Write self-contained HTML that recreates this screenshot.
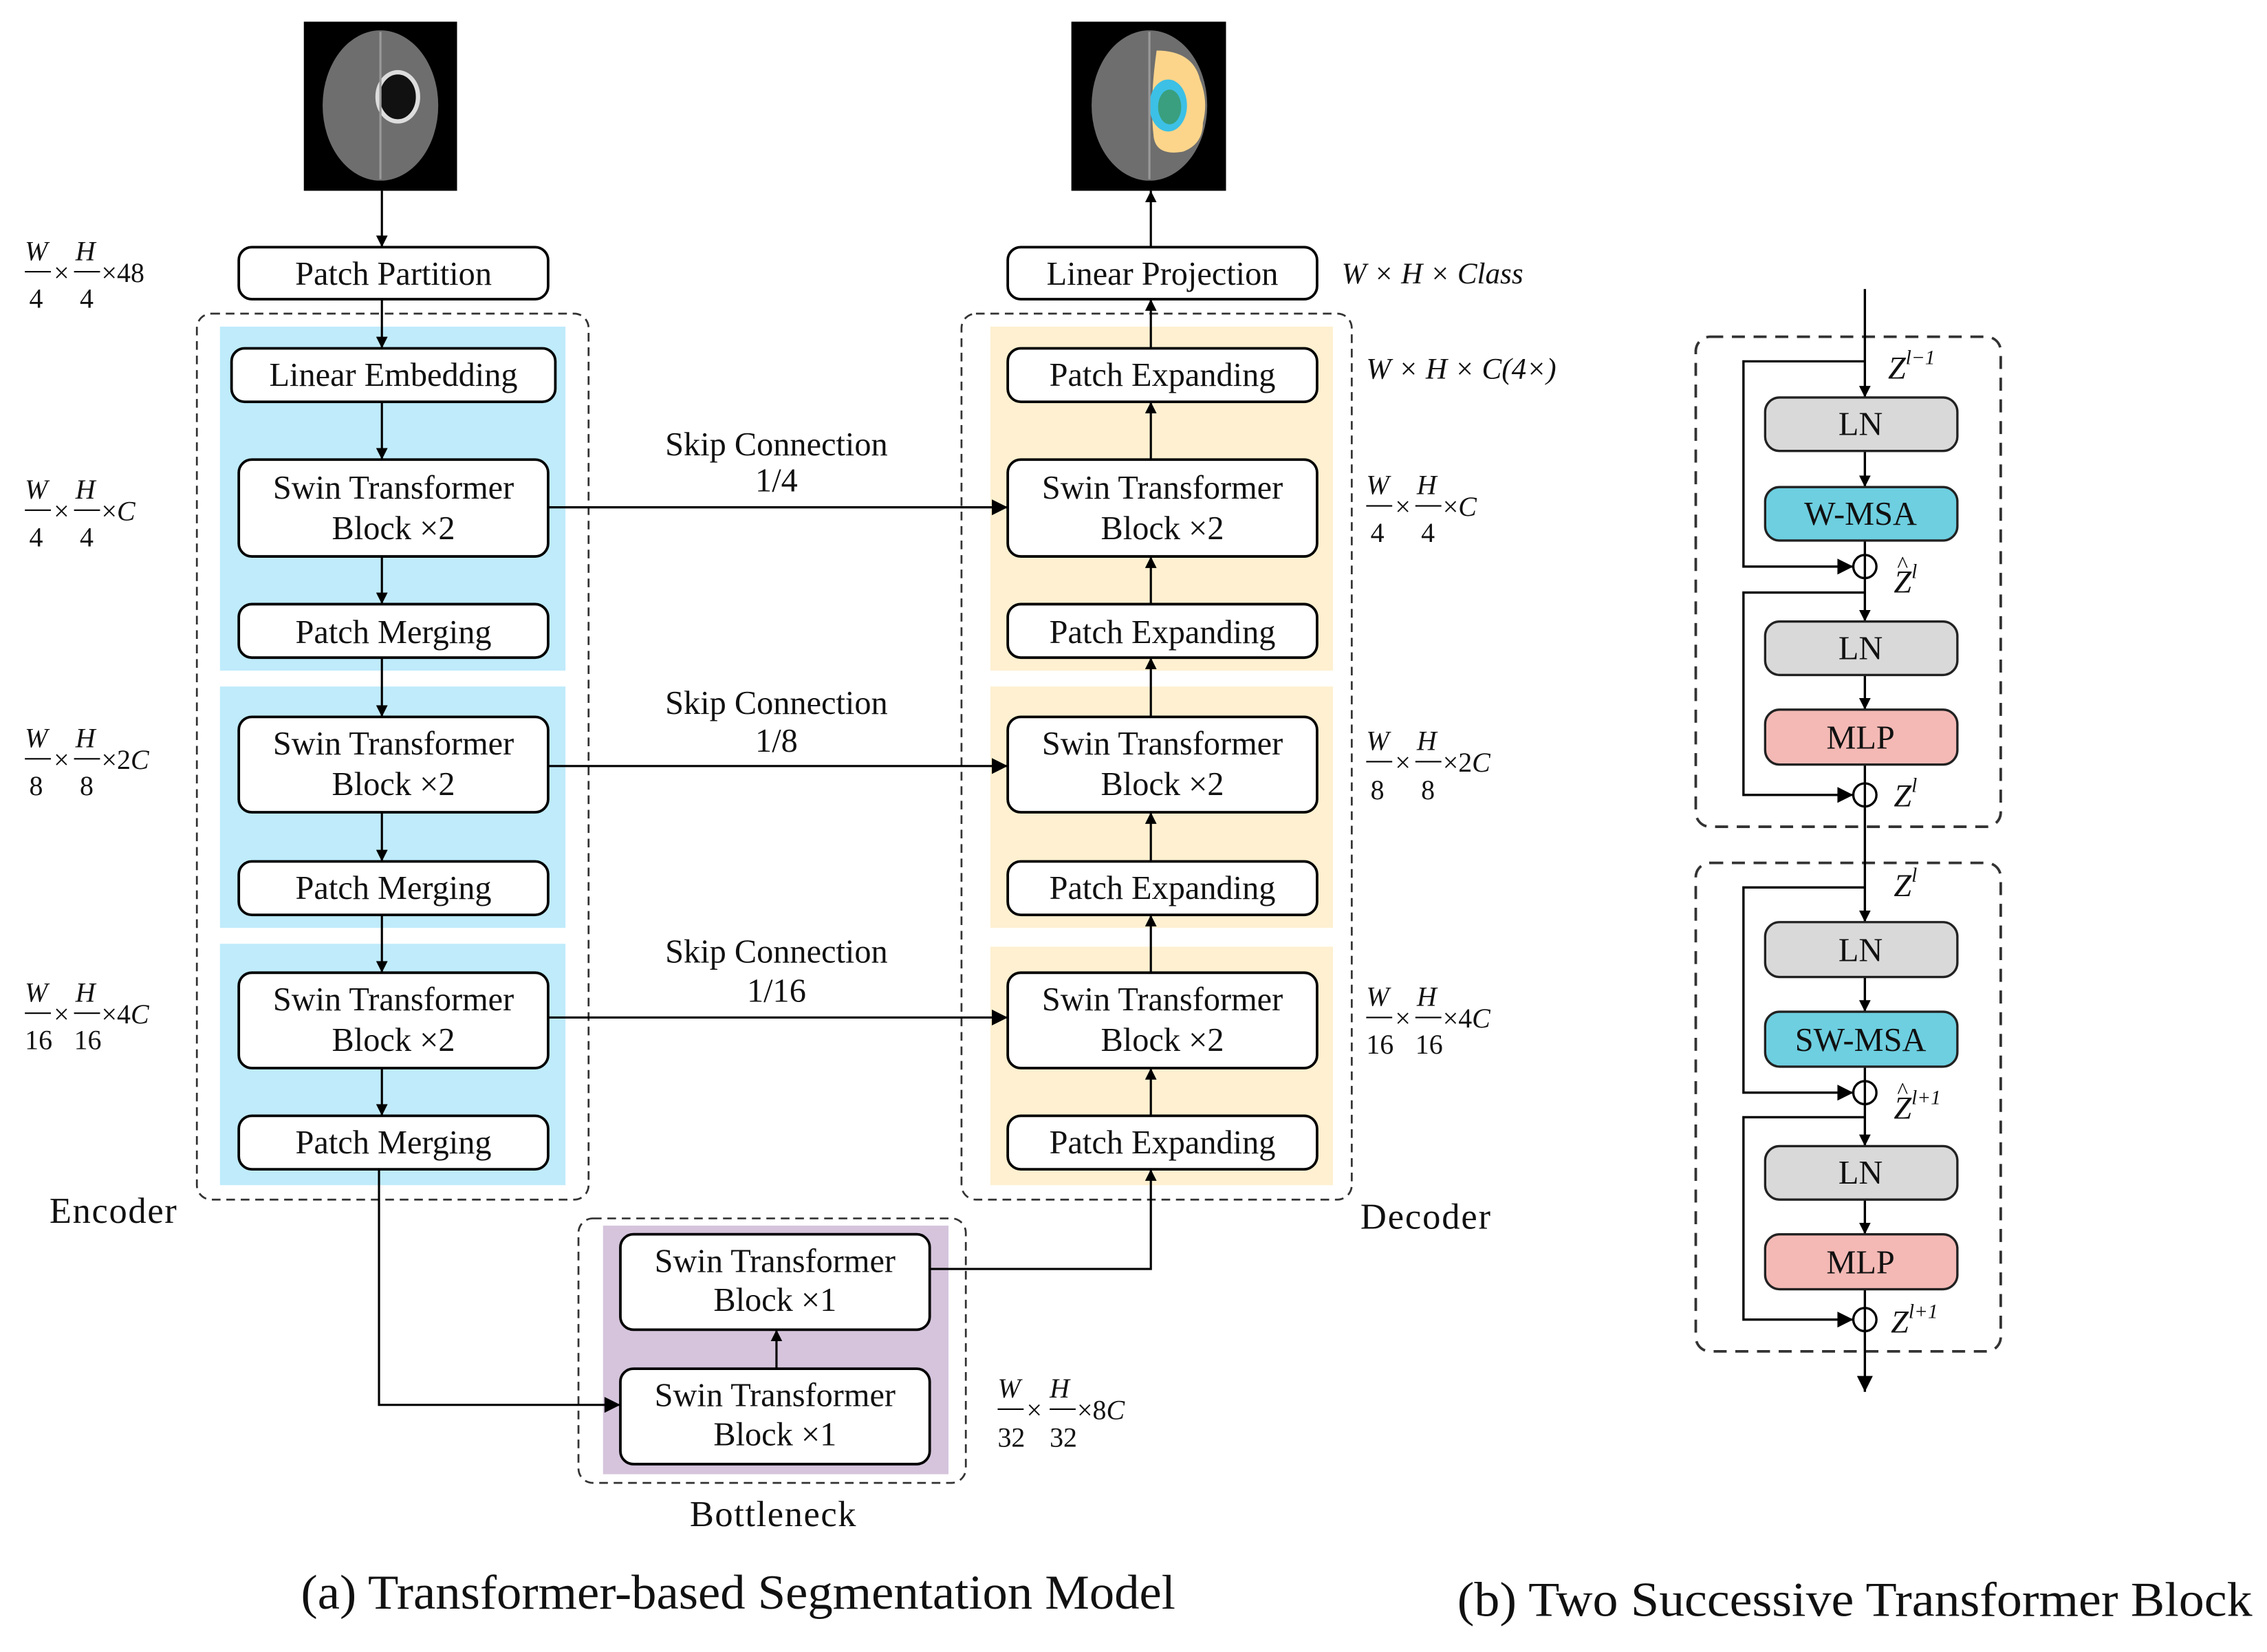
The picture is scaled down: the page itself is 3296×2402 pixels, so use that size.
<!DOCTYPE html>
<html><head><meta charset="utf-8"><style>
html,body{margin:0;padding:0;background:#fff;}
svg{display:block;}
text{font-family:"Liberation Serif",serif;fill:#111;}
.b{font-size:23px;text-anchor:middle;}
.i{font-style:italic;font-size:19px;}
.f{font-size:19px;}
</style></head><body>
<svg width="3296" height="2402" viewBox="0 0 1568 1143" xmlns="http://www.w3.org/2000/svg">
<defs>
<marker id="a" viewBox="0 0 10 10" refX="10" refY="5" markerWidth="8" markerHeight="8" markerUnits="userSpaceOnUse" orient="auto"><path d="M0,0L10,5L0,10z" fill="#000"/></marker>
<marker id="A" viewBox="0 0 10 10" refX="10" refY="5" markerWidth="14" markerHeight="11" markerUnits="userSpaceOnUse" orient="auto"><path d="M0,0L10,5L0,10z" fill="#000"/></marker>
</defs>
<rect x="210" y="15" width="106" height="117" fill="#000"/>
<ellipse cx="263" cy="73" rx="40" ry="52" fill="#6e6e6e"/>
<ellipse cx="275" cy="67" rx="14" ry="17" fill="#111" stroke="#ddd" stroke-width="3"/>
<line x1="263" y1="22" x2="263" y2="124" stroke="#999" stroke-width="1.5"/>
<rect x="741" y="15" width="107" height="117" fill="#000"/>
<ellipse cx="795" cy="73" rx="40" ry="52" fill="#6e6e6e"/>
<path d="M800,35 Q825,35 830,55 Q836,70 832,85 Q832,100 818,105 Q800,108 798,95 Q795,70 800,35z" fill="#fcd58a"/>
<ellipse cx="808" cy="73" rx="13" ry="18" fill="#3cc0e6"/>
<ellipse cx="809" cy="74" rx="8" ry="12" fill="#3a9f7e"/>
<line x1="795" y1="22" x2="795" y2="124" stroke="#999" stroke-width="1.5"/>

<g fill="#bfebfb"><rect x="152" y="226" width="239" height="238"/><rect x="152" y="475" width="239" height="167"/><rect x="152" y="653" width="239" height="167"/></g>
<g fill="#fef0d0"><rect x="685" y="226" width="237" height="238"/><rect x="685" y="475" width="237" height="167"/><rect x="685" y="655" width="237" height="165"/></g>
<rect x="417" y="848" width="239" height="172" fill="#d5c4dc"/>
<g fill="none" stroke="#333" stroke-width="1.3" stroke-dasharray="6,4">
<rect x="136" y="217" width="271" height="613" rx="10"/>
<rect x="665" y="217" width="270" height="613" rx="10"/>
<rect x="400" y="843" width="268" height="183" rx="10"/>
<rect x="1173" y="233" width="211" height="339" rx="10" stroke-dasharray="9,6" stroke-width="1.8"/>
<rect x="1173" y="597" width="211" height="338" rx="10" stroke-dasharray="9,6" stroke-width="1.8"/>
</g>

<g fill="#fff" stroke="#000" stroke-width="1.8">
<rect x="165" y="171" width="214" height="36" rx="9"/>
<rect x="697" y="171" width="214" height="36" rx="9"/>
<rect x="160" y="241" width="224" height="37" rx="9"/>
<rect x="165" y="318" width="214" height="67" rx="9"/>
<rect x="165" y="418" width="214" height="37" rx="9"/>
<rect x="165" y="496" width="214" height="66" rx="9"/>
<rect x="165" y="596" width="214" height="37" rx="9"/>
<rect x="165" y="673" width="214" height="66" rx="9"/>
<rect x="165" y="772" width="214" height="37" rx="9"/>
<rect x="697" y="241" width="214" height="37" rx="9"/>
<rect x="697" y="318" width="214" height="67" rx="9"/>
<rect x="697" y="418" width="214" height="37" rx="9"/>
<rect x="697" y="496" width="214" height="66" rx="9"/>
<rect x="697" y="596" width="214" height="37" rx="9"/>
<rect x="697" y="673" width="214" height="66" rx="9"/>
<rect x="697" y="772" width="214" height="37" rx="9"/>
<rect x="429" y="854" width="214" height="66" rx="9"/>
<rect x="429" y="947" width="214" height="66" rx="9"/>
</g>
<g>
<text x="272" y="197" class="b">Patch Partition</text>
<text x="804" y="197" class="b">Linear Projection</text>
<text x="272" y="267" class="b">Linear Embedding</text>
<text x="272" y="345" class="b">Swin Transformer</text><text x="272" y="373" class="b">Block ×2</text>
<text x="272" y="445" class="b">Patch Merging</text>
<text x="272" y="522" class="b">Swin Transformer</text><text x="272" y="550" class="b">Block ×2</text>
<text x="272" y="622" class="b">Patch Merging</text>
<text x="272" y="699" class="b">Swin Transformer</text><text x="272" y="727" class="b">Block ×2</text>
<text x="272" y="798" class="b">Patch Merging</text>
<text x="804" y="267" class="b">Patch Expanding</text>
<text x="804" y="345" class="b">Swin Transformer</text><text x="804" y="373" class="b">Block ×2</text>
<text x="804" y="445" class="b">Patch Expanding</text>
<text x="804" y="522" class="b">Swin Transformer</text><text x="804" y="550" class="b">Block ×2</text>
<text x="804" y="622" class="b">Patch Expanding</text>
<text x="804" y="699" class="b">Swin Transformer</text><text x="804" y="727" class="b">Block ×2</text>
<text x="804" y="798" class="b">Patch Expanding</text>
<text x="536" y="880" class="b">Swin Transformer</text><text x="536" y="907" class="b">Block ×1</text>
<text x="536" y="973" class="b">Swin Transformer</text><text x="536" y="1000" class="b">Block ×1</text>
<text x="537" y="315" class="b">Skip Connection</text><text x="537" y="340" class="b">1/4</text>
<text x="537" y="494" class="b">Skip Connection</text><text x="537" y="520" class="b">1/8</text>
<text x="537" y="666" class="b">Skip Connection</text><text x="537" y="693" class="b">1/16</text>
</g>
<text x="34" y="846" style="font-size:25px" textLength="88">Encoder</text>
<text x="941" y="850" style="font-size:25px" textLength="90">Decoder</text>
<text x="477" y="1056" style="font-size:25px" textLength="115">Bottleneck</text>
<text x="208" y="1113" style="font-size:34px" textLength="605" lengthAdjust="spacingAndGlyphs">(a) Transformer-based Segmentation Model</text>
<text x="1008" y="1118" style="font-size:34px" textLength="550" lengthAdjust="spacingAndGlyphs">(b)  Two Successive Transformer Block</text>

<g stroke="#000" stroke-width="1.5" fill="none">
<line x1="264" y1="132" x2="264" y2="171" marker-end="url(#a)"/>
<line x1="264" y1="207" x2="264" y2="241" marker-end="url(#a)"/>
<line x1="264" y1="278" x2="264" y2="318" marker-end="url(#a)"/>
<line x1="264" y1="385" x2="264" y2="418" marker-end="url(#a)"/>
<line x1="264" y1="455" x2="264" y2="496" marker-end="url(#a)"/>
<line x1="264" y1="562" x2="264" y2="596" marker-end="url(#a)"/>
<line x1="264" y1="633" x2="264" y2="673" marker-end="url(#a)"/>
<line x1="264" y1="739" x2="264" y2="772" marker-end="url(#a)"/>
<polyline points="262,809 262,972 429,972" marker-end="url(#A)"/>
<line x1="537" y1="947" x2="537" y2="920" marker-end="url(#a)"/>
<polyline points="643,878 796,878 796,809" marker-end="url(#a)"/>
<line x1="796" y1="772" x2="796" y2="739" marker-end="url(#a)"/>
<line x1="796" y1="673" x2="796" y2="633" marker-end="url(#a)"/>
<line x1="796" y1="596" x2="796" y2="562" marker-end="url(#a)"/>
<line x1="796" y1="496" x2="796" y2="455" marker-end="url(#a)"/>
<line x1="796" y1="418" x2="796" y2="385" marker-end="url(#a)"/>
<line x1="796" y1="318" x2="796" y2="278" marker-end="url(#a)"/>
<line x1="796" y1="241" x2="796" y2="207" marker-end="url(#a)"/>
<line x1="796" y1="171" x2="796" y2="132" marker-end="url(#a)"/>
<line x1="379" y1="351" x2="697" y2="351" marker-end="url(#A)"/>
<line x1="379" y1="530" x2="697" y2="530" marker-end="url(#A)"/>
<line x1="379" y1="704" x2="697" y2="704" marker-end="url(#A)"/>
</g>

<g class="i">
<text x="17" y="180">W</text><text x="52" y="180">H</text><text x="20" y="213" style="font-style:normal">4</text><text x="55" y="213" style="font-style:normal">4</text>
<text x="17" y="345">W</text><text x="52" y="345">H</text><text x="20" y="378" style="font-style:normal">4</text><text x="55" y="378" style="font-style:normal">4</text>
<text x="17" y="517">W</text><text x="52" y="517">H</text><text x="20" y="550" style="font-style:normal">8</text><text x="55" y="550" style="font-style:normal">8</text>
<text x="17" y="693">W</text><text x="52" y="693">H</text><text x="17" y="726" style="font-style:normal">16</text><text x="51" y="726" style="font-style:normal">16</text>
<text x="945" y="342">W</text><text x="980" y="342">H</text><text x="948" y="375" style="font-style:normal">4</text><text x="983" y="375" style="font-style:normal">4</text>
<text x="945" y="519">W</text><text x="980" y="519">H</text><text x="948" y="553" style="font-style:normal">8</text><text x="983" y="553" style="font-style:normal">8</text>
<text x="945" y="696">W</text><text x="980" y="696">H</text><text x="945" y="729" style="font-style:normal">16</text><text x="979" y="729" style="font-style:normal">16</text>
<text x="690" y="967">W</text><text x="726" y="967">H</text><text x="690" y="1001" style="font-style:normal">32</text><text x="726" y="1001" style="font-style:normal">32</text>
<text x="928" y="196" style="font-size:20.5px">W × H × Class</text>
<text x="945" y="262" style="font-size:20.5px">W × H × C(4×)</text>
</g>
<g class="f">
<text x="37" y="195">×</text><text x="70" y="195">×48</text>
<text x="37" y="360">×</text><text x="70" y="360"><tspan>×</tspan><tspan font-style="italic">C</tspan></text>
<text x="37" y="532">×</text><text x="70" y="532"><tspan>×2</tspan><tspan font-style="italic">C</tspan></text>
<text x="37" y="708">×</text><text x="70" y="708"><tspan>×4</tspan><tspan font-style="italic">C</tspan></text>
<text x="965" y="357">×</text><text x="998" y="357"><tspan>×</tspan><tspan font-style="italic">C</tspan></text>
<text x="965" y="534">×</text><text x="998" y="534"><tspan>×2</tspan><tspan font-style="italic">C</tspan></text>
<text x="965" y="711">×</text><text x="998" y="711"><tspan>×4</tspan><tspan font-style="italic">C</tspan></text>
<text x="710" y="982">×</text><text x="745" y="982"><tspan>×8</tspan><tspan font-style="italic">C</tspan></text>
</g>
<g stroke="#000" stroke-width="1">
<line x1="17" y1="188" x2="35" y2="188"/><line x1="51" y1="188" x2="69" y2="188"/>
<line x1="17" y1="353" x2="35" y2="353"/><line x1="51" y1="353" x2="69" y2="353"/>
<line x1="17" y1="525" x2="35" y2="525"/><line x1="51" y1="525" x2="69" y2="525"/>
<line x1="17" y1="701" x2="35" y2="701"/><line x1="51" y1="701" x2="69" y2="701"/>
<line x1="945" y1="350" x2="963" y2="350"/><line x1="979" y1="350" x2="997" y2="350"/>
<line x1="945" y1="527" x2="963" y2="527"/><line x1="979" y1="527" x2="997" y2="527"/>
<line x1="945" y1="704" x2="963" y2="704"/><line x1="979" y1="704" x2="997" y2="704"/>
<line x1="690" y1="975" x2="708" y2="975"/><line x1="726" y1="975" x2="744" y2="975"/>
</g>

<g stroke="#000" stroke-width="1.6" fill="none">
<line x1="1290" y1="200" x2="1290" y2="275" marker-end="url(#a)"/>
<line x1="1290" y1="312" x2="1290" y2="337" marker-end="url(#a)"/>
<line x1="1290" y1="374" x2="1290" y2="430" marker-end="url(#a)"/>
<line x1="1290" y1="467" x2="1290" y2="491" marker-end="url(#a)"/>
<line x1="1290" y1="529" x2="1290" y2="638" marker-end="url(#a)"/>
<line x1="1290" y1="676" x2="1290" y2="700" marker-end="url(#a)"/>
<line x1="1290" y1="738" x2="1290" y2="793" marker-end="url(#a)"/>
<line x1="1290" y1="830" x2="1290" y2="854" marker-end="url(#a)"/>
<line x1="1290" y1="892" x2="1290" y2="963" marker-end="url(#A)"/>
<polyline points="1290,250 1206,250 1206,392 1282,392" marker-end="url(#A)"/>
<polyline points="1290,410 1206,410 1206,550 1282,550" marker-end="url(#A)"/>
<polyline points="1290,614 1206,614 1206,756 1282,756" marker-end="url(#A)"/>
<polyline points="1290,773 1206,773 1206,913 1282,913" marker-end="url(#A)"/>
<circle cx="1290" cy="392" r="8"/><circle cx="1290" cy="550" r="8"/><circle cx="1290" cy="756" r="8"/><circle cx="1290" cy="913" r="8"/>
</g>
<g stroke="#222" stroke-width="1.6">
<rect x="1221" y="275" width="133" height="37" rx="10" fill="#d9d9d9"/>
<rect x="1221" y="337" width="133" height="37" rx="10" fill="#6dcfe0"/>
<rect x="1221" y="430" width="133" height="37" rx="10" fill="#d9d9d9"/>
<rect x="1221" y="491" width="133" height="38" rx="10" fill="#f4b9b5"/>
<rect x="1221" y="638" width="133" height="38" rx="10" fill="#d9d9d9"/>
<rect x="1221" y="700" width="133" height="38" rx="10" fill="#6dcfe0"/>
<rect x="1221" y="793" width="133" height="37" rx="10" fill="#d9d9d9"/>
<rect x="1221" y="854" width="133" height="38" rx="10" fill="#f4b9b5"/>
</g>
<g>
<text x="1287" y="301" class="b">LN</text>
<text x="1287" y="363" class="b">W-MSA</text>
<text x="1287" y="456" class="b">LN</text>
<text x="1287" y="518" class="b">MLP</text>
<text x="1287" y="665" class="b">LN</text>
<text x="1287" y="727" class="b">SW-MSA</text>
<text x="1287" y="819" class="b">LN</text>
<text x="1287" y="881" class="b">MLP</text>
</g>
<g class="i" style="font-size:22px">
<text x="1306" y="262">Z<tspan dy="-10" font-size="14">l−1</tspan></text>
<text x="1310" y="410">Z<tspan dy="-10" font-size="14">l</tspan></text>
<text x="1312" y="396" font-size="16">^</text>
<text x="1310" y="558">Z<tspan dy="-10" font-size="14">l</tspan></text>
<text x="1310" y="620">Z<tspan dy="-10" font-size="14">l</tspan></text>
<text x="1310" y="774">Z<tspan dy="-10" font-size="14">l+1</tspan></text>
<text x="1312" y="760" font-size="16">^</text>
<text x="1308" y="922">Z<tspan dy="-10" font-size="14">l+1</tspan></text>
</g>
</svg>
</body></html>
